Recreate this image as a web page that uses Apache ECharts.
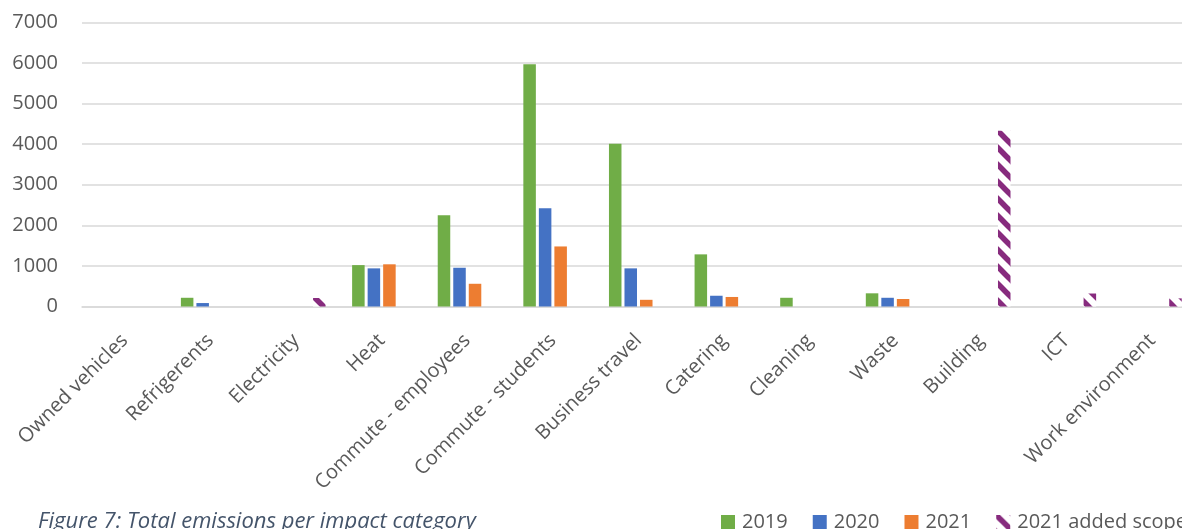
<!DOCTYPE html>
<html>
<head>
<meta charset="utf-8">
<script src="https://cdn.jsdelivr.net/npm/echarts@6/dist/echarts.min.js"></script>
<style>
html,body{margin:0;padding:0;background:#fff;}
#c{width:1182px;height:529px;}
</style>
</head>
<body>
<div id="c"></div>
<script>
const categories = ['Owned vehicles','Refrigerents','Electricity','Heat','Commute - employees','Commute - students','Business travel','Catering','Cleaning','Waste','Building','ICT','Work environment'];
const s2019 = [0, 215, 0, 1020, 2250, 5970, 4010, 1285, 215, 325, 0, 0, 0];
const s2020 = [0, 85, 0, 940, 955, 2420, 940, 265, 0, 215, 0, 0, 0];
const s2021 = [0, 0, 0, 1040, 560, 1480, 165, 235, 0, 185, 0, 0, 0];
const s2021added = [0, 0, 210, 0, 0, 0, 0, 0, 0, 0, 4330, 320, 200];
const yTicks = [0, 1000, 2000, 3000, 4000, 5000, 6000, 7000];
const seriesNames = ['2019','2020','2021','2021 added scope'];

const purple = '#872B7E';
function hatch() {
  const s = 17;
  const cv = document.createElement('canvas');
  cv.width = s; cv.height = s;
  const ctx = cv.getContext('2d');
  ctx.fillStyle = '#fff';
  ctx.fillRect(0, 0, s, s);
  ctx.strokeStyle = purple;
  ctx.lineWidth = 5.5;
  for (const c of [-s, 0, s]) {
    ctx.beginPath();
    ctx.moveTo(-2, c - 2);
    ctx.lineTo(s + 2, s + c + 2);
    ctx.stroke();
  }
  return cv;
}
const pattern = { image: hatch(), repeat: 'repeat' };

const chart = echarts.init(document.getElementById('c'), null, { renderer: 'canvas' });
const font = '"Open Sans", sans-serif';
const txt = '#595959';
chart.setOption({
  animation: false,
  title: {
    text: 'Figure 7: Total emissions per impact category',
    left: 33, top: 506,
    textStyle: { fontFamily: font, fontStyle: 'italic', fontWeight: 'normal', fontSize: 22, color: '#44546A' }
  },
  legend: {
    left: 721, top: 512, width: 700, padding: 0,
    itemWidth: 14, itemHeight: 14, itemGap: 25,
    icon: 'rect',
    data: seriesNames,
    textStyle: { fontFamily: font, fontSize: 20, color: txt, lineHeight: 14, padding: [0, 0, 0, 2] }
  },
  grid: { left: 82, top: 22.5, width: 1113, height: 284, containLabel: false, outerBoundsMode: 'none' },
  xAxis: {
    type: 'category',
    data: categories,
    axisLine: { show: true, lineStyle: { color: '#D9D9D9', width: 1.5 } },
    axisTick: { show: false },
    axisLabel: { rotate: 45, interval: 0, margin: 31, fontFamily: font, fontSize: 20, color: txt }
  },
  yAxis: {
    type: 'value',
    min: yTicks[0], max: yTicks[yTicks.length - 1], interval: 1000,
    axisLine: { show: false },
    axisTick: { show: false },
    splitLine: { lineStyle: { color: '#D9D9D9', width: 1.5 } },
    axisLabel: { margin: 24, fontFamily: font, fontSize: 20, color: txt, formatter: v => String(v) }
  },
  series: [
    { name: seriesNames[0], type: 'bar', data: s2019, barGap: '24%', barCategoryGap: '31%', itemStyle: { color: '#70AD47' } },
    { name: seriesNames[1], type: 'bar', data: s2020, itemStyle: { color: '#4472C4' } },
    { name: seriesNames[2], type: 'bar', data: s2021, itemStyle: { color: '#ED7D31' } },
    { name: seriesNames[3], type: 'bar', data: s2021added, itemStyle: { color: pattern } }
  ]
});
</script>
</body>
</html>
